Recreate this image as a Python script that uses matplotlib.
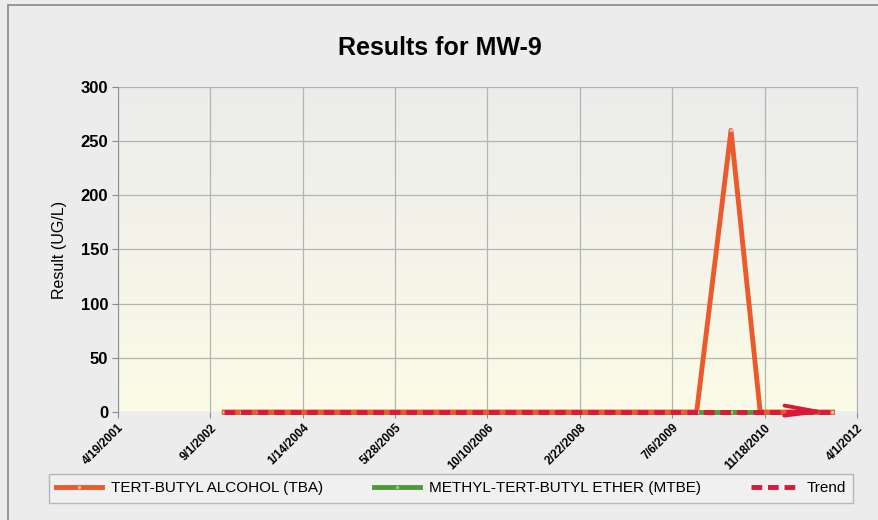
import matplotlib.pyplot as plt
import matplotlib.dates as mdates
import numpy as np
import pandas as pd
from matplotlib.patches import Rectangle

# sample dates (roughly quarterly, then semi-annual)
sample_dates = ['2002-11-15', '2003-02-15', '2003-05-15', '2003-08-15',
                '2003-11-15', '2004-02-15', '2004-05-15', '2004-08-15',
                '2004-11-15', '2005-02-15', '2005-05-15', '2005-08-15',
                '2005-11-15', '2006-02-15', '2006-05-15', '2006-08-15',
                '2006-11-15', '2007-02-15', '2007-05-15', '2007-08-15',
                '2007-11-15', '2008-02-15', '2008-05-15', '2008-08-15',
                '2008-11-15', '2009-02-15', '2009-05-15', '2009-08-15',
                '2009-11-15', '2010-05-20', '2010-10-25', '2011-05-15',
                '2011-11-20']
tba = [0, 0, 0, 0, 0, 0, 0, 0, 0, 0, 0, 0, 0, 0, 0, 0, 0,
       0, 0, 0, 0, 0, 0, 0, 0, 0, 0, 0, 0, 260, 0, 0, 0]
mtbe = [0, 0, 0, 0, 0, 0, 0, 0, 0, 0, 0, 0, 0, 0, 0, 0, 0,
        0, 0, 0, 0, 0, 0, 0, 0, 0, 0, 0, 0, 0, 0, 0, 0]
trend_dates = ['2002-11-15', '2011-11-20']
trend = [0, 0]

tick_dates = ['2001-04-19', '2002-09-01', '2004-01-14', '2005-05-28',
              '2006-10-10', '2008-02-22', '2009-07-06', '2010-11-18',
              '2012-04-01']
tick_labels = ['4/19/2001', '9/1/2002', '1/14/2004', '5/28/2005',
               '10/10/2006', '2/22/2008', '7/6/2009', '11/18/2010',
               '4/1/2012']
y_ticks = [0, 50, 100, 150, 200, 250, 300]

plt.rcParams['font.family'] = ['Liberation Sans', 'DejaVu Sans']

x = pd.to_datetime(sample_dates)
xt = pd.to_datetime(trend_dates)
ticks = pd.to_datetime(tick_dates)

fig = plt.figure(figsize=(8.79, 5.2), dpi=100)
fig.patch.set_facecolor('#ececec')
fig.patches.append(Rectangle((0.009, -0.01), 1.2, 1.0, transform=fig.transFigure,
                             fill=False, edgecolor='#7f8a8f', lw=1.2))

ax = fig.add_axes([0.1342, 0.2077, 0.8408, 0.625])
ax.set_facecolor('none')

# faint gray-to-cream gradient behind the plot area
grad = np.linspace(0, 1, 256).reshape(-1, 1)
top_c = np.array([0.925, 0.925, 0.925])
bot_c = np.array([0.985, 0.985, 0.905])
img = top_c * (1 - grad)[..., None] + bot_c * grad[..., None]
ax.imshow(img, extent=[0, 1, 0, 1], transform=ax.transAxes, aspect='auto',
          zorder=0)

ax.set_xlim(ticks[0], ticks[-1])
ax.set_ylim(0, 300)

ax.plot(x, mtbe, color='#4e9a3a', lw=3.5, marker='o', ms=2.5,
        mfc='#8fcf78', mec='none', zorder=3, clip_on=False,
        label='METHYL-TERT-BUTYL ETHER (MTBE)')
ax.plot(x, tba, color='#ea5a2a', lw=3.5, marker='o', ms=2.5,
        mfc='#f3b7a4', mec='none', zorder=4, clip_on=False,
        label='TERT-BUTYL ALCOHOL (TBA)')
ax.plot(xt, trend, color='#d9183a', lw=3.5, ls=(0, (2.2, 1.2)), zorder=5,
        clip_on=False, label='Trend')
ax.annotate('', xy=(xt[-1], trend[-1]),
            xytext=(xt[-1] - pd.Timedelta(days=200), trend[-1] + 1),
            arrowprops=dict(arrowstyle='->, head_length=1.3, head_width=0.2',
                            color='#d9183a', lw=2.8, mutation_scale=18),
            zorder=6, annotation_clip=False)

ax.set_xticks(ticks)
ax.set_xticklabels(tick_labels, rotation=45, ha='right', rotation_mode='anchor',
                   fontsize=8.5, fontweight='bold')
ax.set_yticks(y_ticks)
ax.set_yticklabels([str(v) for v in y_ticks], fontsize=12, fontweight='bold')
ax.tick_params(axis='both', length=4, color='#8a8a8a', pad=3)
ax.grid(True, color='#b4b4b4', lw=0.9)
ax.set_axisbelow(True)
for side in ['top', 'bottom']:
    ax.spines[side].set_visible(False)
ax.spines['left'].set_color('#8a9296')
ax.spines['right'].set_color('#b4b4b4')

ax.set_ylabel('Result (UG/L)', fontsize=11.5, labelpad=10)
fig.text(0.5, 0.908, 'Results for MW-9', ha='center', va='center',
         fontsize=18, fontweight='bold')

handles, labels = ax.get_legend_handles_labels()
order = [1, 0, 2]
leg = fig.legend([handles[i] for i in order], [labels[i] for i in order],
                 loc='center', bbox_to_anchor=(0.513, 0.061), ncol=3,
                 fontsize=11, frameon=True, fancybox=False, handlelength=3.0,
                 handletextpad=0.6, columnspacing=3.3, borderpad=0.5)
leg.get_frame().set_edgecolor('#a8a8a8')
leg.get_frame().set_facecolor('#f2f2f2')

fig.savefig('out.png', dpi=100, facecolor=fig.get_facecolor())
